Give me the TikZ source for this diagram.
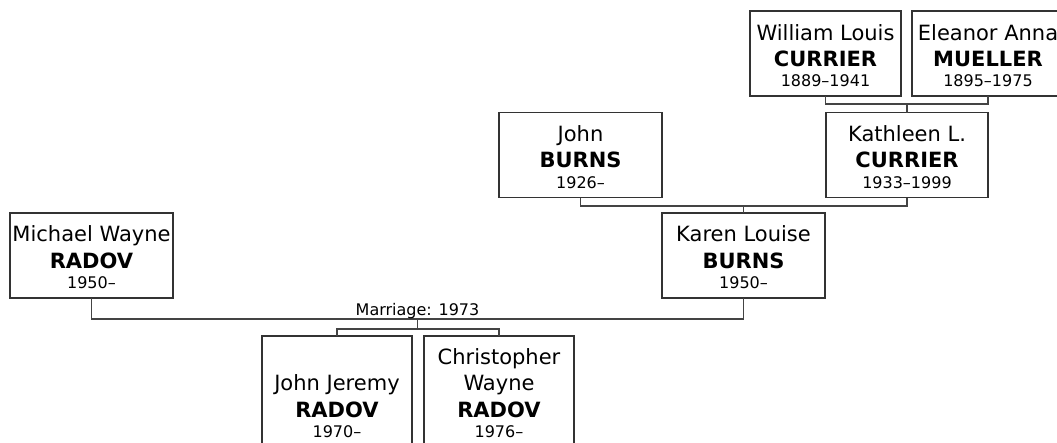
\documentclass[tikz,border=0pt]{standalone}
\usepackage{fontspec}
\setmainfont{DejaVu Sans}
\usetikzlibrary{calc}
\definecolor{boxc}{HTML}{333333}
\definecolor{linec}{HTML}{444444}
\begin{document}
\begin{tikzpicture}[x=1pt,y=-1pt,
  pbox/.style={draw=boxc, line width=1.4pt, fill=white, inner sep=0pt, outer sep=0pt, minimum height=85},
  tallbox/.style={pbox, minimum height=111},
  nm/.style={anchor=base, inner sep=0pt, font=\fontsize{21}{25}\selectfont},
  sn/.style={anchor=base, inner sep=0pt, font=\fontsize{21}{25}\selectfont\bfseries},
  yr/.style={anchor=base, inner sep=0pt, font=\fontsize{16}{19}\selectfont},
  link/.style={draw=linec, line width=1.4pt},
  lbl/.style={anchor=base, inner sep=0pt, font=\fontsize{16}{19}\selectfont}]
\useasboundingbox (0,0) rectangle (1057,442);
\clip (0,0) rectangle (1057,442);

% grandparents
\node[pbox, minimum width=151] (wl) at (825.5,53.5) {};
\node[nm] (wl1) at ($(wl.north)+(0,29)$) {William Louis};
\node[sn] (wl2) at ($(wl.north)+(0,55)$) {CURRIER};
\node[yr] (wl3) at ($(wl.north)+(0,75.5)$) {1889–1941};

\node[pbox, minimum width=152] (ea) at (988,53.5) {};
\node[nm] (ea1) at ($(ea.north)+(0,29)$) {Eleanor Anna};
\node[sn] (ea2) at ($(ea.north)+(0,55)$) {MUELLER};
\node[yr] (ea3) at ($(ea.north)+(0,75.5)$) {1895–1975};

% parents of Karen
\node[pbox, minimum width=163] (jb) at (580.5,155) {};
\node[nm] (jb1) at ($(jb.north)+(0,28.5)$) {John};
\node[sn] (jb2) at ($(jb.north)+(0,55)$) {BURNS};
\node[yr] (jb3) at ($(jb.north)+(0,75.5)$) {1926–};

\node[pbox, minimum width=162] (kc) at (907,155) {};
\node[nm] (kc1) at ($(kc.north)+(0,28.5)$) {Kathleen L.};
\node[sn] (kc2) at ($(kc.north)+(0,55)$) {CURRIER};
\node[yr] (kc3) at ($(kc.north)+(0,75.5)$) {1933–1999};

% couple
\node[pbox, minimum width=163] (mw) at (91.5,255.5) {};
\node[nm] (mw1) at ($(mw.north)+(0,28.5)$) {Michael Wayne};
\node[sn] (mw2) at ($(mw.north)+(0,55)$) {RADOV};
\node[yr] (mw3) at ($(mw.north)+(0,75.5)$) {1950–};

\node[pbox, minimum width=163] (kb) at (743.5,255.5) {};
\node[nm] (kb1) at ($(kb.north)+(0,28.5)$) {Karen Louise};
\node[sn] (kb2) at ($(kb.north)+(0,55)$) {BURNS};
\node[yr] (kb3) at ($(kb.north)+(0,75.5)$) {1950–};

% children
\node[tallbox, minimum width=150] (jj) at (337,391.5) {};
\node[nm] (jj1) at ($(jj.north)+(0,54.5)$) {John Jeremy};
\node[sn] (jj2) at ($(jj.north)+(0,81)$) {RADOV};
\node[yr] (jj3) at ($(jj.north)+(0,101)$) {1970–};

\node[tallbox, minimum width=150] (cw) at (499,391.5) {};
\node[nm] (cw1) at ($(cw.north)+(0,28)$) {Christopher};
\node[nm] (cw2) at ($(cw.north)+(0,54.5)$) {Wayne};
\node[sn] (cw3) at ($(cw.north)+(0,81)$) {RADOV};
\node[yr] (cw4) at ($(cw.north)+(0,101)$) {1976–};

% junction points
\coordinate (m1) at (907,104);
\coordinate (m2) at (743.5,206);
\coordinate (m3) at (417.5,319);
\coordinate (m4) at (417.5,329);

% connectors
\draw[link] (wl.south) |- (m1) -| (ea.south);
\draw[link] (m1) -- (kc.north);
\draw[link] (jb.south) |- (m2) -| (kc.south);
\draw[link] (m2) -- (kb.north);
\draw[link] (mw.south) |- (m3) -| (kb.south);
\draw[link] (m3) -- (m4);
\draw[link] (jj.north) |- (m4) -| (cw.north);
\node[lbl] (marr) at ($(m3)+(0,-3.5)$) {Marriage: 1973};
\end{tikzpicture}
\end{document}
